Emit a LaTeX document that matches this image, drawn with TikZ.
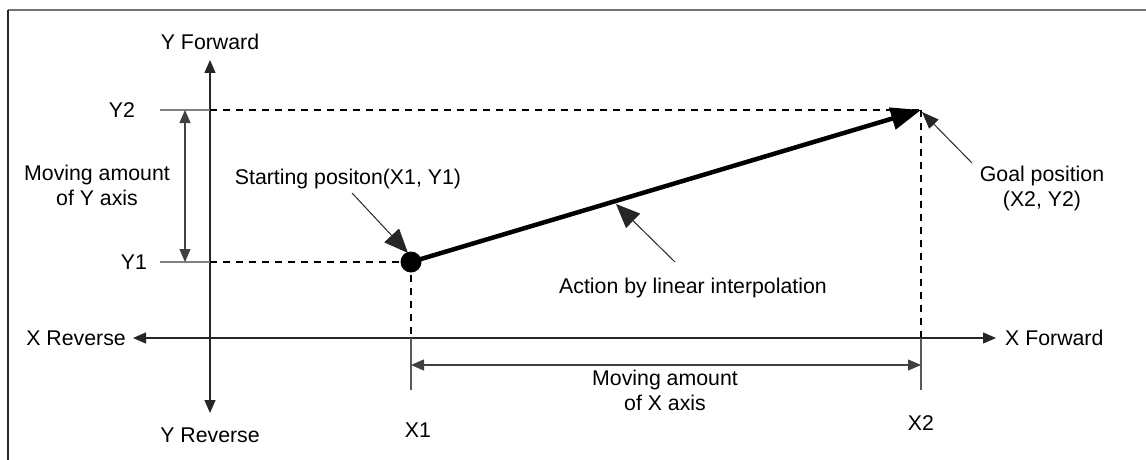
\documentclass[tikz,border=0pt]{standalone}
\usepackage{fontspec}
\setmainfont{Liberation Sans}
\usetikzlibrary{arrows.meta}
\begin{document}
\begin{tikzpicture}[x=1pt,y=-1pt,
  lbl/.style={font=\fontsize{21.3}{25}\selectfont, inner sep=0pt, align=center},
  axisline/.style={draw=black!85, line width=1.3pt, {Triangle[length=13pt,width=11pt]}-{Triangle[length=13pt,width=11pt]}},
  dimline/.style={draw=black!75, line width=1.1pt, {Triangle[length=13pt,width=11pt]}-{Triangle[length=13pt,width=11pt]}},
  guide/.style={draw=black!50, line width=1.6pt},
  guidedash/.style={draw=black, line width=1.2pt, dash pattern=on 7pt off 6pt},
  tickv/.style={draw=black!65, line width=1.3pt},
  pathline/.style={draw=black, line width=4.5pt, -{Triangle[length=30pt,width=22pt]}},
  callout/.style={draw=black!85, line width=1pt, -{Triangle[length=24pt,width=20pt]}}
]
\useasboundingbox (0,0) rectangle (1146,460);
% frame
\draw[draw=black!55, line width=2pt] (8,10) -- (1146,10);
\draw[draw=black!85, line width=2pt] (8,10) -- (8,460);

% axes
\coordinate (ytop) at (210,60);
\coordinate (ybot) at (210,413);
\coordinate (xl) at (133,338);
\coordinate (xr) at (996,338);
\node[lbl] (yf) at (210,42) {Y Forward};
\node[lbl] (yr) at (210,435) {Y Reverse};
\node[lbl, anchor=east] (xrev) at (126,338) {X Reverse};
\node[lbl, anchor=west] (xfwd) at (1005,338) {X Forward};
\draw[axisline] (ybot) -- (ytop);
\draw[axisline] (xl) -- (xr);

% points
\node[circle, fill=black, inner sep=0pt, minimum size=21pt] (s) at (411,262) {};
\coordinate (g) at (921,110);

% Y guides
\coordinate (y2a) at (160,110);
\coordinate (y2b) at (210,110);
\coordinate (y1a) at (160,262);
\coordinate (y1b) at (210,262);
\node[lbl] (y2) at (122,110) {Y2};
\node[lbl] (y1) at (134,262) {Y1};
\draw[guide] (y2a) -- (y2b);
\draw[guide] (y1a) -- (y1b);
\draw[guidedash] (y2b) -- (g);
\draw[guidedash] (y1b) -- (s.center);

% X guides
\coordinate (x1a) at (411,338);
\coordinate (x1b) at (411,390);
\coordinate (x2a) at (921,338);
\coordinate (x2b) at (921,390);
\draw[guidedash] (s.center) -- (x1a);
\draw[guidedash] (g) -- (x2a);
\draw[tickv] (x1a) -- (x1b);
\draw[tickv] (x2a) -- (x2b);
\node[lbl] (x1) at (418,430) {X1};
\node[lbl] (x2) at (921,423) {X2};

% dimension arrows
\coordinate (dy1) at (185,110);
\coordinate (dy2) at (185,262);
\draw[dimline] (dy1) -- (dy2);
\node[lbl] (my) at (97,185) {Moving amount\\of Y axis};
\coordinate (dx1) at (411,365);
\coordinate (dx2) at (921,365);
\draw[dimline] (dx1) -- (dx2);
\node[lbl] (mx) at (665,390) {Moving amount\\of X axis};

% main path
\draw[pathline] (s.center) -- (g);

% callouts
\node[lbl] (start) at (348,179) {Starting positon(X1, Y1)};
\coordinate (sfrom) at (352,193);
\coordinate (sto) at (408,253);
\draw[callout] (sfrom) -- (sto);

\node[lbl] (goal) at (1042,188) {Goal position\\(X2, Y2)};
\coordinate (gfrom) at (972,163);
\coordinate (gto) at (922,112);
\draw[draw=black!85, line width=1pt, -{Triangle[length=17pt,width=13pt]}] (gfrom) -- (gto);

\node[lbl] (act) at (693,288) {Action by linear interpolation};
\coordinate (afrom) at (675,262);
\coordinate (ato) at (616,204);
\draw[callout] (afrom) -- (ato);
\end{tikzpicture}
\end{document}
